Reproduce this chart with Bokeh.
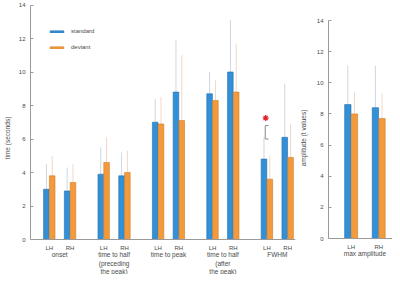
from bokeh.plotting import figure
from bokeh.layouts import row
from bokeh.models import FixedTicker, Range1d, Legend, LegendItem, Span
from bokeh.core.properties import value
from bokeh.embed import file_html
from bokeh.resources import INLINE

# ---------------- data ----------------
groups = ["onset", "time to half\n(preceding\nthe peak)", "time to peak",
          "time to half\n(after\nthe peak)", "FWHM"]
hemis = ["LH", "RH"]
# order: onset LH, onset RH, pre LH, pre RH, peak LH, peak RH, after LH, after RH, FWHM LH, FWHM RH
standard = [3.0, 2.9, 3.9, 3.8, 7.0, 8.8, 8.7, 10.0, 4.8, 6.1]
deviant = [3.8, 3.4, 4.6, 4.0, 6.9, 7.1, 8.3, 8.8, 3.6, 4.9]
standard_err = [1.5, 1.4, 1.6, 1.4, 1.4, 3.1, 1.3, 3.1, 1.3, 3.2]
deviant_err = [1.2, 1.1, 1.5, 1.3, 1.6, 3.9, 1.2, 2.9, 1.4, 2.0]

amp_standard = [8.6, 8.4]
amp_deviant = [8.0, 7.7]
amp_standard_err = [2.5, 2.7]
amp_deviant_err = [1.4, 1.6]
amp_label = "max amplitude"

y_ticks = [0, 2, 4, 6, 8, 10, 12, 14]
sig_index = 8             # FWHM LH
sig_bracket = [6.0, 6.8]  # bracket extent (seconds)
sig_star = 7.25

BLUE = "#3390d6"
BLUE_EDGE = "#1f6ead"
ORANGE = "#f39b3c"
ORANGE_EDGE = "#d07a22"
BLUE_ERR = "#cdd7e2"
ORANGE_ERR = "#f1d8c6"
AXIS = "#9a9a9a"
TXT = "#4a4a4a"
FONT = "Liberation Sans"

GROUP_STEP = 2.62
OFF = 0.14
BW = 0.27

xs = [round(g * GROUP_STEP + (h - 0.5), 3) for g in range(len(groups)) for h in range(2)]
centers = [round(g * GROUP_STEP, 3) for g in range(len(groups))]
x_blue = [x - OFF for x in xs]
x_orange = [x + OFF for x in xs]
top_blue = [v + e for v, e in zip(standard, standard_err)]
top_orange = [v + e for v, e in zip(deviant, deviant_err)]

# pixel geometry: frame spans the full figure height; x-axis drawn at value 0
FIG_H = 274
TOP = 1


def style_axes(p, label_standoff, axis_label_standoff):
    p.xaxis.visible = False
    ax = p.yaxis[0]
    ax.ticker = FixedTicker(ticks=y_ticks)
    ax.bounds = (0, 14)
    ax.axis_line_color = AXIS
    ax.major_tick_line_color = AXIS
    ax.minor_tick_line_color = None
    ax.major_tick_in = 3
    ax.major_tick_out = 0
    ax.major_label_standoff = label_standoff
    ax.major_label_text_font = FONT
    ax.major_label_text_font_size = "6px"
    ax.major_label_text_color = TXT
    ax.axis_label_text_font = FONT
    ax.axis_label_text_font_size = "6.5px"
    ax.axis_label_text_font_style = "normal"
    ax.axis_label_text_color = TXT
    ax.axis_label_standoff = axis_label_standoff
    p.grid.visible = False
    p.outline_line_color = None
    p.add_layout(Span(location=0, dimension="width", line_color=AXIS, line_width=1))


def add_x_labels(p, tick_x, tick_text, grp_x, grp_text, scale):
    p.segment(x0=tick_x, y0=[0] * len(tick_x), x1=tick_x, y1=[3 / scale] * len(tick_x),
              line_color=AXIS, line_width=1)
    p.text(x=tick_x, y=[-8 / scale] * len(tick_x), text=tick_text,
           text_align="center", text_baseline="middle", text_font=value(FONT),
           text_font_size="6px", text_color=TXT)
    p.text(x=grp_x, y=[-11.5 / scale] * len(grp_x), text=grp_text,
           text_align="center", text_baseline="top", text_font=value(FONT),
           text_font_size="6.5px", text_color=TXT, text_line_height=1.22)


# ---------------- left figure ----------------
L_ZERO, L_14 = 239, 4.5                 # px rows of 0 and 14
L_SCALE = (L_ZERO - L_14) / 14.0
p1 = figure(width=296, height=FIG_H, output_backend="svg", toolbar_location=None,
            x_range=Range1d(-1.405, 11.357),
            y_range=Range1d(-(FIG_H - L_ZERO) / L_SCALE, 14 + (L_14 - TOP) / L_SCALE),
            min_border_left=27, min_border_right=1, min_border_top=TOP, min_border_bottom=0)

p1.segment(x0=x_blue, y0=standard, x1=x_blue, y1=top_blue, line_color=BLUE_ERR, line_width=1)
p1.segment(x0=x_orange, y0=deviant, x1=x_orange, y1=top_orange, line_color=ORANGE_ERR, line_width=1)
rb = p1.vbar(x=x_blue, top=standard, width=BW, fill_color=BLUE, line_color=BLUE_EDGE, line_width=0.6)
ro = p1.vbar(x=x_orange, top=deviant, width=BW, fill_color=ORANGE, line_color=ORANGE_EDGE, line_width=0.6)

# significance bracket
sx = xs[sig_index] - 0.08
p1.segment(x0=[sx, sx, sx], y0=[sig_bracket[0], sig_bracket[0], sig_bracket[1]],
           x1=[sx, sx + 0.16, sx + 0.16], y1=[sig_bracket[1], sig_bracket[0], sig_bracket[1]],
           line_color="#8a8a8a", line_width=1)
p1.scatter(x=[sx + 0.02], y=[sig_star], marker="asterisk", size=6, line_color="#e0202a", line_width=1.2)

p1.yaxis.axis_label = "time (seconds)"
style_axes(p1, 5, 5)
add_x_labels(p1, xs, [hemis[i % 2] for i in range(len(xs))], centers, groups, L_SCALE)

legend = Legend(items=[LegendItem(label="standard", renderers=[rb]),
                       LegendItem(label="deviant", renderers=[ro])],
                location=(18, 223), glyph_width=17, glyph_height=3, label_height=8,
                spacing=8, padding=0, margin=0, label_standoff=6,
                label_text_font=FONT, label_text_font_size="6px", label_text_color=TXT,
                border_line_color=None, background_fill_alpha=0)
p1.add_layout(legend)

# ---------------- right figure ----------------
ax_pos = [1, 2]
ROFF = 0.12
RBW = 0.23
ax_blue = [x - ROFF for x in ax_pos]
ax_orange = [x + ROFF for x in ax_pos]
R_ZERO, R_14 = 238, 20
R_SCALE = (R_ZERO - R_14) / 14.0

p2 = figure(width=96, height=FIG_H, output_backend="svg", toolbar_location=None,
            x_range=Range1d(0.179, 2.5),
            y_range=Range1d(-(FIG_H - R_ZERO) / R_SCALE, 14 + (R_14 - TOP) / R_SCALE),
            min_border_left=31, min_border_right=0, min_border_top=TOP, min_border_bottom=0)
p2.segment(x0=ax_blue, y0=amp_standard, x1=ax_blue,
           y1=[v + e for v, e in zip(amp_standard, amp_standard_err)], line_color=BLUE_ERR, line_width=1)
p2.segment(x0=ax_orange, y0=amp_deviant, x1=ax_orange,
           y1=[v + e for v, e in zip(amp_deviant, amp_deviant_err)], line_color=ORANGE_ERR, line_width=1)
p2.vbar(x=ax_blue, top=amp_standard, width=RBW, fill_color=BLUE, line_color=BLUE_EDGE, line_width=0.6)
p2.vbar(x=ax_orange, top=amp_deviant, width=RBW, fill_color=ORANGE, line_color=ORANGE_EDGE, line_width=0.6)

p2.yaxis.axis_label = "amplitude (t values)"
style_axes(p2, 5, 7)
add_x_labels(p2, ax_pos, hemis, [1.5], [amp_label], R_SCALE)

layout = row(p1, p2, spacing=0)
open("out.html", "w").write(file_html(layout, INLINE))
